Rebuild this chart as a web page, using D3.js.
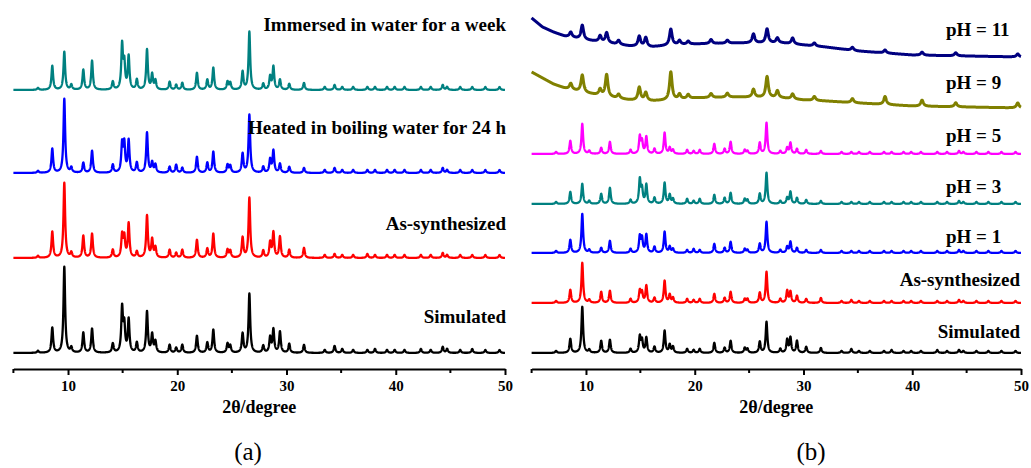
<!DOCTYPE html>
<html>
<head>
<meta charset="utf-8">
<script src="https://cdn.jsdelivr.net/npm/d3@7"></script>
<style>
  body { margin: 0; background: #fff; }
  text { font-family: "Liberation Serif", "Times New Roman", serif; }
</style>
</head>
<body>
<div id="figure"></div>
<script>
// positions des pics (2theta) communes aux phases cristallines
const peakPos = [7.25, 8.56, 9.66, 10.3, 11.4, 12.2, 14.1, 14.95, 15.15, 15.55, 16.3, 17.23, 17.7, 18.0,
  19.3, 19.9, 20.46, 21.8, 22.75, 23.3, 24.6, 24.85, 25.98, 26.6, 27.87, 28.5, 28.8, 29.4, 30.25, 31.6,
  33.5, 34.4, 35.1, 36.1, 37.4, 38.1, 39.2, 39.9, 40.8, 42.3, 43.2, 44.3, 44.7, 45.9, 47.0, 48.2, 49.5];

// panneau (a)
const simA = [2, 25, 86, 5, 20, 24, 9, 44, 26, 33, 10, 41, 18, 11, 8, 5, 8, 17, 10, 23, 9, 7, 19, 59, 7, 15, 23, 21, 9, 8, 3, 7, 4, 3, 3, 4, 3, 3, 3, 4, 3, 6, 4, 3, 4, 3, 3];
const asSynA = [2, 26, 75, 5, 22, 24, 8, 22, 20, 34, 6, 42, 18, 10, 8, 5, 8, 18, 9, 24, 8, 7, 20, 60, 7, 15, 25, 21, 8, 10, 3, 4, 3, 3, 4, 3, 3, 3, 3, 3, 3, 5, 3, 3, 3, 3, 3];
const heatedA = [2, 24, 74, 5, 10, 22, 8, 28, 28, 32, 10, 40, 10, 8, 6, 8, 5, 16, 10, 21, 8, 7, 19, 58, 6, 13, 22, 9, 6, 5, 3, 5, 3, 3, 3, 3, 3, 3, 3, 3, 3, 5, 3, 3, 3, 3, 3];
const immersedA = [2, 24, 38, 5, 20, 29, 8, 44, 25, 33, 10, 40, 15, 9, 8, 5, 7, 17, 10, 22, 8, 7, 18, 58, 6, 13, 23, 10, 6, 7, 3, 5, 3, 3, 3, 3, 3, 3, 3, 3, 3, 5, 3, 3, 3, 3, 3];
const labelsA = ["Simulated", "As-synthesized", "Heated in boiling water for 24 h", "Immersed in water for a week"];
const offsetsA = [16, 111, 196, 279];

// panneau (b)
const simB = [2, 14, 46, 3, 12, 13, 4, 16, 12, 15, 6, 22, 8, 6, 4, 3, 4, 10, 5, 12, 5, 4, 11, 31, 4, 13, 15, 12, 6, 5, 2, 4, 2, 2, 2, 3, 2, 2, 2, 3, 2, 3, 2, 2, 2, 2, 2];
const asSynB = [2, 13, 40, 3, 11, 12, 4, 12, 10, 17, 5, 22, 8, 5, 4, 3, 4, 9, 5, 11, 4, 4, 10, 31, 4, 12, 11, 7, 4, 5, 2, 3, 2, 2, 2, 2, 2, 2, 2, 2, 2, 3, 2, 2, 2, 2, 2];
const ph1 = [2, 13, 39, 3, 5, 12, 4, 16, 14, 18, 6, 21, 6, 4, 3, 4, 3, 9, 5, 11, 4, 3, 9, 31, 3, 6, 11, 5, 3, 3, 2, 2, 2, 2, 2, 2, 2, 2, 2, 2, 2, 3, 2, 2, 2, 2, 2];
const ph3 = [2, 12, 20, 3, 10, 16, 4, 24, 14, 19, 6, 21, 9, 5, 5, 3, 5, 9, 6, 11, 5, 4, 10, 31, 3, 6, 12, 6, 4, 3, 2, 2, 2, 2, 2, 2, 2, 2, 2, 2, 2, 3, 2, 2, 2, 2, 2];
const ph5 = [2, 13, 30, 3, 6, 12, 4, 17, 12, 17, 5, 21, 6, 4, 4, 3, 4, 10, 5, 12, 4, 3, 11, 31, 3, 6, 11, 5, 4, 3, 2, 2, 2, 2, 2, 2, 2, 2, 2, 2, 2, 3, 2, 2, 2, 2, 2];
const offsetsB = [16, 66, 116, 165, 215];

// pH = 9 et pH = 11 : autres pics et fond incline
const altPos = [8.6, 9.66, 11.3, 11.9, 13.0, 14.9, 15.5, 17.8, 18.6, 19.4, 21.5, 23.0, 25.4, 26.65, 27.6, 29.0, 31.0, 34.5, 37.5, 40.9, 44.0, 49.7];
const ph9 = [6, 17, 6, 22, 4, 13, 8, 28, 5, 4, 4, 4, 8, 21, 7, 5, 4, 4, 8, 6, 4, 5];
const ph11 = [5, 14, 6, 10, 4, 10, 9, 16, 4, 3, 4, 3, 9, 14, 5, 6, 3, 3, 3, 3, 3, 3];
const bgTheta = [5, 6, 7, 8, 10, 12, 14, 16, 18, 20, 24, 28, 30, 32, 35, 40, 50];
const bgPh9 = [297, 291, 285, 281, 276, 272, 269, 268, 269, 271, 272, 271, 269, 268, 266, 263, 261];
const bgPh11 = [351, 342, 337, 333, 329, 326, 323, 322, 324, 325, 326, 326, 324, 322, 318, 314, 312];
const labelsB = ["Simulated", "As-synthesized", "pH = 1", "pH = 3", "pH = 5", "pH = 9", "pH = 11"];

const xTicks = [10, 20, 30, 40, 50];
const xMinor = [5, 15, 25, 35, 45];

function profil(pos, haut, largeur, fond) {
  let points = [];
  for (let k = 0; k <= 4500; k++) {
    let t = 5 + k * 0.01;
    let y = fond(t);
    for (let i = 0; i < pos.length; i++) {
      let d = (t - pos[i]) / largeur;
      y += haut[i] / (1 + d * d);
    }
    points.push([t, y]);
  }
  return points;
}

const svg = d3.select("#figure").append("svg")
  .attr("width", 1031).attr("height", 468);

function panneau(x0, x1, series, nom) {
  let x = d3.scaleLinear().domain([5, 50]).range([x0, x1]);
  let y = d3.scaleLinear().domain([0, 360]).range([369, 9]);
  let g = svg.append("g");
  let ligne = d3.line().x(d => x(d[0])).y(d => y(d[1]));

  for (let s of series) {
    g.append("path")
      .attr("d", ligne(profil(s.pos, s.h, s.w, s.fond)))
      .attr("fill", "none")
      .attr("stroke", s.couleur)
      .attr("stroke-width", s.epais || 2.3)
      .attr("stroke-linejoin", "round");
    g.append("text")
      .attr("x", s.lx).attr("y", s.ly)
      .attr("text-anchor", s.ancre)
      .style("font-size", "19px").style("font-weight", "bold")
      .text(s.label);
  }

  // axe du bas
  let axe = g.append("g").attr("transform", "translate(0,369)")
    .call(d3.axisBottom(x).tickValues(xTicks).tickSize(6).tickSizeOuter(0).tickPadding(5));
  axe.select(".domain").attr("stroke-width", 2);
  axe.selectAll(".tick line").attr("stroke-width", 2);
  axe.selectAll(".tick text")
    .style("font-family", "'Liberation Serif', serif").style("font-weight", "bold").style("font-size", "15px");
  g.append("g").attr("transform", "translate(0,369)")
    .selectAll("line").data(xMinor).join("line")
    .attr("x1", d => x(d)).attr("x2", d => x(d))
    .attr("y1", 0).attr("y2", 4)
    .attr("stroke", "black").attr("stroke-width", 2);

  g.append("text")
    .attr("x", (x0 + x1) / 2).attr("y", 413)
    .attr("text-anchor", "middle")
    .style("font-size", "18px").style("font-weight", "bold")
    .text("2θ/degree");
  g.append("text")
    .attr("x", nom == "(a)" ? 248 : 811).attr("y", 460)
    .attr("text-anchor", "middle")
    .style("font-size", "25px")
    .text(nom);
}

function plat(v) { return () => v; }

const colA = ["black", "red", "blue", "#008080"];
const dataA = [simA, asSynA, heatedA, immersedA];
const lyA = [323, 230, 134, 31];
panneau(13.4, 505, dataA.map((h, i) => ({
  pos: peakPos, h: h, w: 0.09, fond: plat(offsetsA[i]), couleur: colA[i],
  label: labelsA[i], lx: 506, ly: lyA[i], ancre: "end"
})), "(a)");

const colB = ["black", "red", "blue", "#008080", "#ff00ff"];
const dataB = [simB, asSynB, ph1, ph3, ph5];
const lyB = [338, 286, 243, 193, 142, 89, 36];
let seriesB = dataB.map((h, i) => ({
  pos: peakPos, h: h, w: 0.09, fond: plat(offsetsB[i]), couleur: colB[i],
  label: labelsB[i], lx: i < 2 ? 1020 : 946, ly: lyB[i], ancre: i < 2 ? "end" : "start"
}));
seriesB.push({ pos: altPos, h: ph9, w: 0.14, fond: d3.scaleLinear().domain(bgTheta).range(bgPh9),
  couleur: "#808000", epais: 3, label: labelsB[5], lx: 946, ly: lyB[5], ancre: "start" });
seriesB.push({ pos: altPos, h: ph11, w: 0.14, fond: d3.scaleLinear().domain(bgTheta).range(bgPh11),
  couleur: "#000080", epais: 3, label: labelsB[6], lx: 946, ly: lyB[6], ancre: "start" });
panneau(531.6, 1021, seriesB, "(b)");
</script>
</body>
</html>
